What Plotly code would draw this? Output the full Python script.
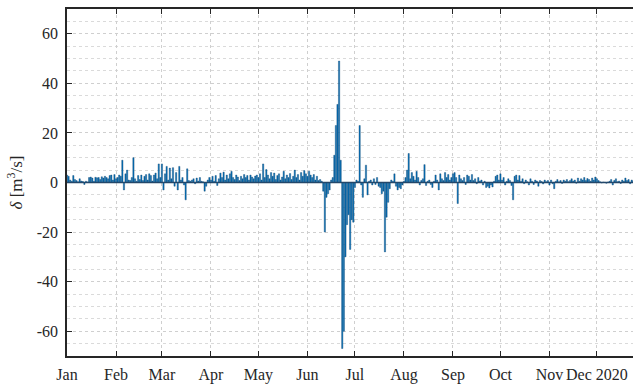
import plotly.graph_objects as go

# Daily flow deviation for 2020 (m^3/s), one value per day, Jan 1 .. Dec 31
jan = [3.0, 2.5, 1.0, 0.5, 2.8, 1.2, 0.8, 0.3, 1.5, 0.6, 0.4, -0.8, 0.5, 0.2, 2.0, 2.2,
       1.8, 0.5, 2.1, 1.9, 2.0, 1.2, 2.3, 1.8, 2.5, 2.0, 1.5, 2.8, 3.0, 1.0, 3.2]
feb = [1.5, 2.0, 3.0, 2.5, 9.0, -3.0, 3.5, 5.0, 1.0, 0.8, 2.0, 10.0, 1.5, 0.5, 2.8,
       1.2, 3.0, 0.8, 2.5, 3.2, 1.0, 3.5, 2.8, 0.6, 3.0, 3.8, 1.5, 7.5, 2.0]
mar = [7.5, -3.0, 3.5, 6.5, 1.0, 5.8, 1.5, 6.0, -1.5, 4.0, -3.0, 6.5, 1.0, 2.0, -1.0,
       -7.0, 5.5, 0.8, 0.5, 1.0, 1.5, -0.5, 1.8, 0.6, 2.0, 0.5, 0.3, -3.5, -1.5, 1.0, 2.0]
apr = [1.0, 2.5, 0.5, 2.8, -1.2, 1.5, 3.8, 2.0, 4.2, 1.0, 3.0, 1.5, 3.5, 4.5, 2.0,
       1.2, 3.0, 2.2, 0.8, 2.5, 1.5, 3.2, 2.0, 2.8, 1.0, 3.0, 2.2, 1.5, 2.6, 3.0]
may = [2.0, 3.5, 1.0, 7.5, 2.0, 5.2, 3.0, 1.5, 4.0, 2.5, 3.8, 1.2, 2.8, 3.5, 1.0, 2.2,
       4.5, 1.5, 3.0, 2.0, 3.6, 1.2, 2.5, 5.0, 2.0, 3.2, 1.0, 4.0, 2.5, 4.8, 3.5]
jun = [2.5, 4.5, 3.0, 2.0, 3.2, 1.0, 2.5, 0.8, 1.2, 0.5, -3.5, -20.0, -6.0, -4.5, -3.0,
       1.0, 2.0, 11.0, 23.0, 31.5, 49.0, 9.0, -67.0, -60.0, -30.0, -17.0, -13.0, -27.0,
       -15.0, -16.0]
jul = [-2.0, 1.0, 0.5, 23.0, -1.0, -6.0, 1.5, 7.0, -5.0, 0.5, 1.0, -1.0, 1.5, -0.8, 2.0,
       -1.5, -2.0, -4.5, -3.5, -28.0, -14.0, -8.0, -2.5, 1.0, 0.5, 3.5, -1.5, -3.0, -2.0,
       -2.5, -1.0]
aug = [0.5, 2.0, 5.0, 11.7, 1.5, 4.0, 2.5, 1.0, 4.5, 2.0, -1.0, 0.8, 1.5, 7.2, -1.2, 0.5,
       1.0, -0.8, -2.0, 0.5, 3.0, 1.0, -3.0, 3.5, 1.5, 0.8, 4.0, 2.0, 3.2, 1.0, 2.0]
sep = [3.5, 4.0, 2.0, -8.5, 3.0, 1.5, 0.8, 2.0, -0.8, 3.0, 2.5, 1.0, 3.2, 0.8, 1.5,
       -0.5, 2.0, 0.6, 1.0, -1.0, 0.5, -2.0, -1.5, -2.2, -1.0, -1.8, 0.5, 2.5, 3.0, 1.0]
oct_ = [3.5, 1.0, 2.0, -1.0, 0.5, 1.5, 0.8, -1.2, -7.0, 2.5, 3.0, 1.0, 2.8, 0.5, 1.5,
        -0.5, 1.0, 0.3, -1.0, 1.5, 0.5, -0.8, 1.0, 0.6, -1.5, 0.8, 0.4, -0.6, 1.0, 0.3, 0.8]
nov = [-1.0, 1.0, -0.5, -2.5, 0.5, 1.2, 0.3, 0.8, -0.4, 1.0, 0.5, 1.2, 0.3, 0.8, 1.5,
       0.6, 1.0, -0.3, 1.8, 0.5, 1.5, 1.0, 2.0, 0.8, 1.6, 1.2, 0.5, 1.8, 1.0, 2.2]
dec = [1.5, 0.8, 0.3, -0.2, 0.2, 0.1, -0.3, 0.2, 0.5, 1.2, -1.0, 0.8, 1.5, 0.3, 0.6,
       -0.4, 1.0, 0.5, 1.8, 0.8, 1.2, -0.5, 1.0, 0.6, 1.2, 0.4, 0.8, 0.3, 1.0, 0.5, 0.7]

months = [jan, feb, mar, apr, may, jun, jul, aug, sep, oct_, nov, dec]
month_labels = ["Jan", "Feb", "Mar", "Apr", "May", "Jun", "Jul", "Aug", "Sep", "Oct",
                "Nov", "Dec 2020"]
y_ticks = [-60, -40, -20, 0, 20, 40, 60]
y_tick_labels = ["-60", "-40", "-20", "0", "20", "40", "60"]

delta = [v for m in months for v in m]
days = list(range(len(delta)))
month_starts = []
acc = 0
for m in months:
    month_starts.append(acc)
    acc += len(m)

font = dict(family="Liberation Serif, Times New Roman, serif", size=16, color="#262626")
title_font = dict(family="Liberation Serif, Times New Roman, serif", size=17, color="#262626")
axis_col = "#262626"
grid_col = "#cfcfcf"

fig = go.Figure(go.Bar(
    x=days, y=delta,
    marker=dict(color="#0072BD", line=dict(color="#16466e", width=0.4)),
    width=0.8,
))

fig.update_layout(
    width=633, height=385,
    margin=dict(l=67, r=0, t=9, b=29),
    paper_bgcolor="white", plot_bgcolor="white",
    font=font, showlegend=False, bargap=0.2,
)

fig.update_xaxes(
    range=[0, 357.8],
    tickvals=month_starts, ticktext=month_labels,
    ticks="inside", ticklen=5, tickwidth=1.2, tickcolor=axis_col,
    showline=True, linecolor=axis_col, linewidth=1.5, mirror="ticks",
    showgrid=True, gridcolor=grid_col, griddash="dot", gridwidth=1,
    zeroline=False, tickfont=font, ticklabelstandoff=3,
)

fig.update_yaxes(
    range=[-70, 70],
    tickvals=y_ticks, ticktext=y_tick_labels,
    ticks="inside", ticklen=5, tickwidth=1.2, tickcolor=axis_col,
    showline=True, linecolor=axis_col, linewidth=1.5,
    showgrid=True, gridcolor=grid_col, griddash="dot", gridwidth=1,
    minor=dict(dtick=5, tick0=0, showgrid=True, gridcolor="#dadada",
               griddash="dot", gridwidth=1),
    zeroline=False, tickfont=font, ticklabelstandoff=4,
    title=dict(text="<i>δ</i> [m<sup>3</sup>/s]", font=title_font, standoff=10),
)

# bar baseline
fig.add_shape(type="line", xref="paper", yref="y", x0=0, x1=1, y0=0, y1=0,
              line=dict(color="#23476a", width=1.6), layer="above")

fig.write_html("out.html")
